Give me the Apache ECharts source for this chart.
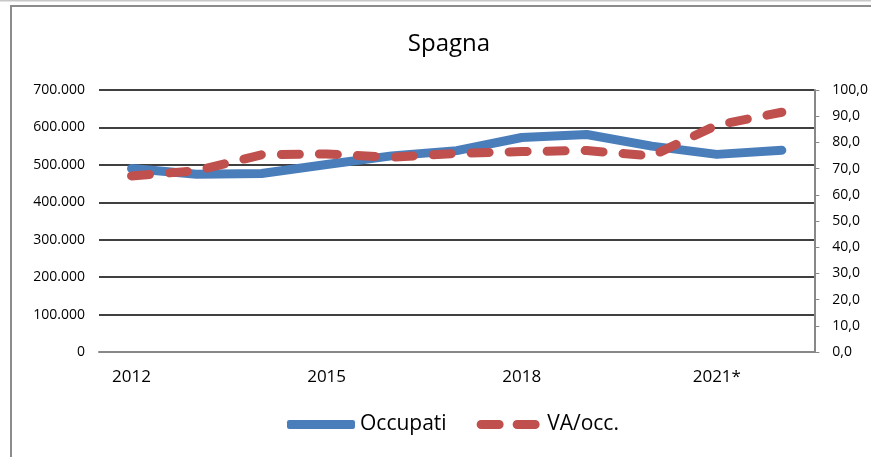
<!DOCTYPE html>
<html>
<head>
<meta charset="utf-8">
<script src="https://cdn.jsdelivr.net/npm/echarts@6/dist/echarts.min.js"></script>
<style>
  html, body { margin: 0; padding: 0; background: #fff; }
  #chart { width: 871px; height: 457px; }
</style>
</head>
<body>
<div id="chart"></div>
<script>
// anni (2021* e 2022* stime)
const years = ['2012', '2013', '2014', '2015', '2016', '2017', '2018', '2019', '2020', '2021*', '2022*']
// occupati (asse sinistro)
const occupati = [490000, 475000, 477000, 501000, 524000, 538000, 573000, 581000, 550000, 528000, 539000]
// valore aggiunto per occupato (asse destro)
const vaOcc = [67.2, 69.2, 75.3, 75.6, 74.3, 75.8, 76.5, 76.9, 74.8, 86.6, 91.5]

const font = '"Open Sans", "DejaVu Sans", sans-serif'

// icona legenda: due trattini arrotondati
const dashIcon = 'path://M4.5,0H22.5A4.5,4.5 0 0 1 22.5,9H4.5A4.5,4.5 0 0 1 4.5,0Z' +
  'M40.5,0H58.5A4.5,4.5 0 0 1 58.5,9H40.5A4.5,4.5 0 0 1 40.5,0Z'

const chart = echarts.init(document.getElementById('chart'))

chart.setOption({
  animation: false,
  backgroundColor: '#fff',
  title: {
    text: 'Spagna',
    left: 444,
    top: 27,
    textAlign: 'center',
    textStyle: { fontFamily: font, fontSize: 24, fontWeight: 'normal', color: '#000' }
  },
  // cornice del grafico
  graphic: [
    { type: 'line', shape: { x1: 0, y1: 0.5, x2: 871, y2: 0.5 }, style: { stroke: '#c8c8c8', lineWidth: 2 } },
    { type: 'rect', shape: { x: 11, y: 6, width: 900, height: 500 }, style: { fill: 'none', stroke: '#8c8c8c', lineWidth: 2 } }
  ],
  legend: {
    bottom: 17,
    left: 282,
    itemWidth: 68,
    itemHeight: 9,
    itemGap: 30,
    textStyle: { fontFamily: font, fontSize: 21, color: '#000' },
    data: [
      { name: 'Occupati', icon: 'roundRect', itemStyle: { color: '#4a7ebb' } },
      { name: 'VA/occ.', icon: dashIcon, itemStyle: { color: '#c0504d' } }
    ]
  },
  grid: {
    left: 99,
    right: 53,
    top: 90,
    bottom: 105
  },
  xAxis: {
    type: 'category',
    data: years,
    boundaryGap: true,
    axisLine: { lineStyle: { color: '#888', width: 2 } },
    axisTick: { show: false },
    axisLabel: {
      interval: 2,
      margin: 17,
      fontFamily: font,
      fontSize: 17,
      color: '#000'
    }
  },
  yAxis: [{
    type: 'value',
    min: 0,
    max: 700000,
    interval: 100000,
    axisLine: { show: false },
    axisTick: { show: false },
    splitLine: { lineStyle: { color: '#000', width: 1.5 } },
    axisLabel: {
      margin: 14,
      fontFamily: font,
      fontSize: 14,
      color: '#000',
      formatter: (v) => v === 0 ? '0' : (v / 1000).toFixed(0) + '.000'
    }
  }, {
    type: 'value',
    position: 'right',
    min: 0,
    max: 100,
    interval: 10,
    axisLine: { show: true, lineStyle: { color: '#888', width: 2 } },
    axisTick: { show: true, length: 5, lineStyle: { color: '#888' } },
    splitLine: { show: false },
    axisLabel: {
      margin: 18,
      fontFamily: font,
      fontSize: 14,
      color: '#000',
      formatter: (v) => v.toFixed(1).replace('.', ',')
    }
  }],
  series: [{
    name: 'Occupati',
    type: 'line',
    yAxisIndex: 0,
    data: occupati,
    symbol: 'none',
    color: '#4a7ebb',
    lineStyle: { color: '#4a7ebb', width: 9, cap: 'round', join: 'round' }
  }, {
    name: 'VA/occ.',
    type: 'line',
    yAxisIndex: 1,
    data: vaOcc,
    symbol: 'none',
    color: '#c0504d',
    lineStyle: { color: '#c0504d', width: 9, type: [18, 20], cap: 'round', join: 'round' }
  }]
})
</script>
</body>
</html>
